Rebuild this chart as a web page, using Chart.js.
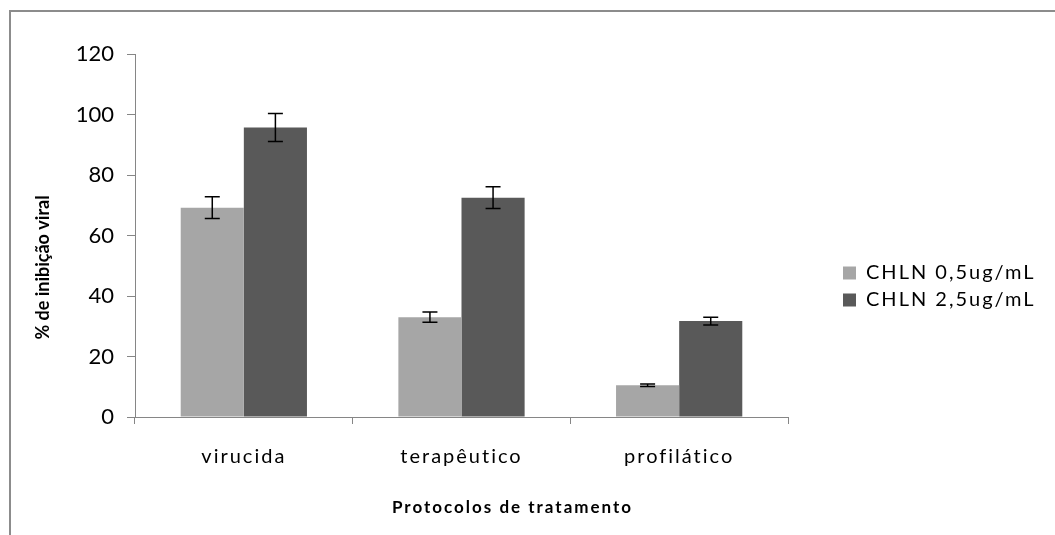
<!DOCTYPE html>
<html>
<head>
<meta charset="utf-8">
<script src="https://cdn.jsdelivr.net/npm/chart.js@4"></script>
<style>
  html, body { margin: 0; padding: 0; background: #fff; }
  #wrap { position: relative; width: 1055px; height: 535px; }
  #frame { position: absolute; left: 9px; top: 10px; right: 0; bottom: 0;
           border-left: 2px solid #8c8c8c; border-top: 2px solid #8c8c8c; pointer-events: none; }
  canvas { position: absolute; left: 0; top: 0; }
</style>
</head>
<body>
<div id="wrap">
  <canvas id="c" width="1055" height="535"></canvas>
  <div id="frame"></div>
</div>
<script>
const categories = ['virucida', 'terapêutico', 'profilático'];
const seriesNames = ['CHLN 0,5ug/mL', 'CHLN 2,5ug/mL'];
const lowDose = [69.2, 33.0, 10.5];
const lowDoseErr = [3.6, 1.7, 0.4];
const highDose = [95.7, 72.5, 31.7];
const highDoseErr = [4.6, 3.6, 1.3];
const yTicks = [0, 20, 40, 60, 80, 100, 120];

const FONT = 'Lato, "Liberation Sans", sans-serif';

const errorBars = {
  id: 'errorBars',
  afterDatasetsDraw(chart) {
    const ctx = chart.ctx;
    const ys = chart.scales.y;
    chart.data.datasets.forEach((ds, i) => {
      const meta = chart.getDatasetMeta(i);
      meta.data.forEach((bar, j) => {
        const v = ds.data[j], e = ds.errors[j];
        const yt = ys.getPixelForValue(v + e);
        const yb = ys.getPixelForValue(v - e);
        const x = bar.x;
        ctx.save();
        ctx.strokeStyle = '#000';
        ctx.lineWidth = 1.5;
        ctx.beginPath();
        ctx.moveTo(x, yt); ctx.lineTo(x, yb);
        ctx.moveTo(x - 7.5, yt); ctx.lineTo(x + 7.5, yt);
        ctx.moveTo(x - 7.5, yb); ctx.lineTo(x + 7.5, yb);
        ctx.stroke();
        ctx.restore();
      });
    });
  }
};

function wrapDraw(chart, obj, name, sp, dx, dy) {
  if (!obj || obj['__w' + name]) return;
  const orig = obj[name];
  obj[name] = function(...args) {
    const c = chart.ctx;
    c.save();
    c.letterSpacing = sp;
    c.translate(dx || 0, dy || 0);
    const r = orig.apply(this, args);
    c.restore();
    return r;
  };
  obj['__w' + name] = true;
}

const LEGEND_BOX_W = 262;
const LEGEND_SHIFT = 48;

const spacing = {
  id: 'spacing',
  beforeUpdate(chart) {
    const lg = chart.legend;
    if (lg && !lg.__wfit) {
      const of = lg.fit;
      lg.fit = function(...a) { const r = of.apply(this, a); this.width = LEGEND_BOX_W; return r; };
      lg.__wfit = true;
      wrapDraw(chart, lg, 'draw', '2px', 0, 0);
    }
  },
  afterLayout(chart) {
    const lg = chart.legend;
    if (lg) { lg.left += LEGEND_SHIFT; lg.right += LEGEND_SHIFT; }
  },
  afterUpdate(chart) {
    wrapDraw(chart, chart.scales.x, 'drawTitle', '2px', 51, 3);
    wrapDraw(chart, chart.scales.x, 'drawLabels', '2px', 0, 0);
    wrapDraw(chart, chart.scales.y, 'drawTitle', '0px', 0, 32);
  }
};

new Chart(document.getElementById('c'), {
  type: 'bar',
  data: {
    labels: categories,
    datasets: [
      { label: seriesNames[0], data: lowDose, errors: lowDoseErr, backgroundColor: '#a6a6a6' },
      { label: seriesNames[1], data: highDose, errors: highDoseErr, backgroundColor: '#595959' }
    ]
  },
  options: {
    responsive: false,
    animation: false,
    devicePixelRatio: 1,
    datasets: { bar: { barPercentage: 1.0, categoryPercentage: 0.58 } },
    layout: { padding: { left: 28, top: 54, right: 5, bottom: 16 } },
    plugins: {
      legend: {
        position: 'right',
        labels: {
          boxWidth: 13, boxHeight: 13, padding: 7,
          color: '#000',
          font: { family: FONT, size: 20 }
        }
      },
      tooltip: { enabled: false }
    },
    scales: {
      x: {
        offset: true,
        grid: { offset: true, drawOnChartArea: false, drawTicks: true, tickLength: 7, color: '#868686' },
        border: { color: '#868686', width: 1 },
        ticks: { color: '#000', font: { family: FONT, size: 20 }, padding: 21 },
        title: { display: true, text: 'Protocolos de tratamento', color: '#000',
                 font: { family: FONT, size: 17, weight: 'bold' }, padding: 4 },
        afterFit(s) { s.height = 102; }
      },
      y: {
        min: 0, max: 120,
        afterBuildTicks(s) { s.ticks = yTicks.map(v => ({ value: v })); },
        grid: { drawOnChartArea: false, drawTicks: true, tickLength: 8, color: '#868686' },
        border: { color: '#868686', width: 1 },
        ticks: { color: '#000', font: { family: FONT, size: 22 }, padding: 13 },
        title: { display: true, text: '% de inibição viral', color: '#000',
                 font: { family: FONT, size: 18, weight: 'bold' }, padding: 4 },
        afterFit(s) { s.width = 107; }
      }
    }
  },
  plugins: [errorBars, spacing]
});
</script>
</body>
</html>
